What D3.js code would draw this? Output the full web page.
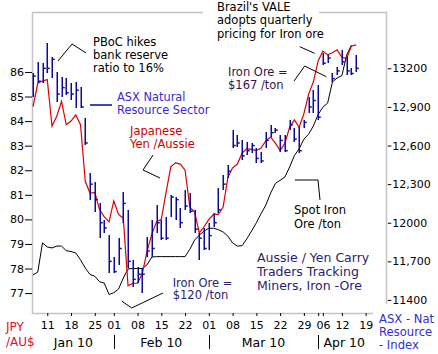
<!DOCTYPE html>
<html>
<head>
<meta charset="utf-8">
<script src="https://cdn.jsdelivr.net/npm/d3@7"></script>
<style>
  body { margin: 0; background: #fff; }
  svg { display: block; font-family: "DejaVu Sans", Verdana, sans-serif; }
</style>
</head>
<body>
<div id="chart"></div>
<script>
// ASX trading days shown on the axis (Australia Day and Easter closed)
const days = [
  "2010-01-06","2010-01-07","2010-01-08","2010-01-11","2010-01-12","2010-01-13","2010-01-14","2010-01-15",
  "2010-01-18","2010-01-19","2010-01-20","2010-01-21","2010-01-22","2010-01-25","2010-01-27","2010-01-28","2010-01-29",
  "2010-02-01","2010-02-02","2010-02-03","2010-02-04","2010-02-05","2010-02-08","2010-02-09","2010-02-10","2010-02-11","2010-02-12",
  "2010-02-15","2010-02-16","2010-02-17","2010-02-18","2010-02-19","2010-02-22","2010-02-23","2010-02-24","2010-02-25","2010-02-26",
  "2010-03-01","2010-03-02","2010-03-03","2010-03-04","2010-03-05","2010-03-08","2010-03-09","2010-03-10","2010-03-11","2010-03-12",
  "2010-03-15","2010-03-16","2010-03-17","2010-03-18","2010-03-19","2010-03-22","2010-03-23","2010-03-24","2010-03-25","2010-03-26",
  "2010-03-29","2010-03-30","2010-03-31","2010-04-01","2010-04-06","2010-04-07","2010-04-08","2010-04-09",
  "2010-04-12","2010-04-13","2010-04-14","2010-04-15","2010-04-16","2010-04-19","2010-04-20","2010-04-21","2010-04-22","2010-04-23"
];
const weekTicks = ["2010-01-11","2010-01-18","2010-01-25","2010-02-01","2010-02-08","2010-02-15","2010-02-22",
  "2010-03-01","2010-03-08","2010-03-15","2010-03-22","2010-03-29","2010-04-06","2010-04-12","2010-04-19"];
const monthStarts = ["2010-02-01","2010-03-01","2010-04-01"];
const months = ["Jan 10","Feb 10","Mar 10","Apr 10"];

// JPY per AUD (left axis)
const jpyAud = [84.59,85.54,85.63,85.69,83.8,84.2,84.8,83.85,84.0,84.25,83.85,81.55,81.06,81.1,80.4,80.1,79.9,
  80.75,80.2,80.05,77.3,77.4,77.4,77.8,78.7,79.4,79.9,80.0,81.1,82.14,82.3,82.25,82.0,80.5,80.3,79.45,79.7,
  80.0,80.2,80.2,80.5,81.7,82.1,82.25,82.7,82.88,82.85,82.8,82.9,83.2,83.35,83.1,82.8,83.1,83.75,84.05,83.75,84.3,85.1,85.6,
  86.45,86.85,86.7,86.78,86.9,86.6,86.55,87.05,87.1];

// ASX natural resource index (right axis): high, low, close
const asxHigh = [13164,13249,13241,13396,13288,13171,13132,13125,13086,13093,13055,12814,12386,12317,12153,12021,11905,
  11734,11882,12239,12099,11711,11656,11648,11889,12021,12138,12021,12045,12216,12200,12115,12254,12231,12099,11920,11959,
  11998,12076,12270,12371,12449,12721,12682,12643,12628,12620,12581,12550,12705,12760,12736,12682,12682,12798,12736,12744,12798,12977,13032,
  13070,13319,13304,13164,13210,13342,13288,13202,13304];
const asxLow = [12977,13086,13086,13164,13125,12939,12977,12993,12954,12892,12892,12604,12176,12083,11882,11920,11610,
  11610,11672,11998,11648,11501,11532,11454,11734,11734,11920,11866,11866,12045,12021,11959,12099,12076,11920,11711,11788,
  11788,11967,12076,12254,12347,12581,12589,12488,12527,12542,12464,12464,12581,12666,12697,12550,12550,12721,12628,12542,12736,12853,12853,
  12798,13226,13241,13093,13148,13226,13148,13148,13171];
const asxClose = [13140,13100,13200,13200,13270,13000,13050,13010,13000,13030,12900,12620,12300,12180,12000,11960,11700,
  11620,11800,12150,11700,11560,11600,11600,11780,11800,12000,11880,11880,12200,12180,12000,12130,12090,11950,11880,11800,
  11900,12000,12100,12300,12400,12600,12620,12520,12560,12600,12500,12480,12640,12700,12720,12640,12560,12760,12650,12560,12780,12900,12950,
  12820,13240,13280,13120,13180,13250,13180,13160,13200];

// spot iron ore, US$/ton (unlabelled scale)
const ironOre = [124.4,125.0,131.4,130.5,130.3,130.7,130.7,129.7,129.5,129.2,127.7,125.9,124.5,124.1,122.9,122.6,120.1,
  120.5,121.3,123.7,125.7,125.8,125.8,125.8,126.6,128.3,128.4,128.4,128.4,128.4,128.4,128.4,128.4,130.0,132.0,133.1,134.0,
  134.6,134.6,134.3,133.8,132.9,131.4,130.7,130.8,132.3,134.0,135.8,137.8,139.7,142.3,144.4,145.1,145.8,148.0,150.5,152.0,154.1,155.2,157.0,
  159.5,161.1,162.0,166.6,167.5,168.0,172.5,174.7];

const leftTicks = [77,78,79,80,81,82,83,84,85,86];
const rightTicks = [13200,12900,12600,12300,12000,11700,11400];
const rightTickLabels = ["13200","12,900","12,600","12,300","12000","11,700","11400"];

const W = 438, H = 354;
const plot = {left: 32, top: 12, right: 386, bottom: 313};

const svg = d3.select("#chart").append("svg").attr("width", W).attr("height", H);
svg.append("rect").attr("width", W).attr("height", H).attr("fill", "#fff");

const dayIndex = new Map(days.map((d, i) => [d, i]));
const x = d3.scaleLinear().domain([-0.21, 74.28]).range([plot.left, plot.right]);
const yL = d3.scaleLinear().domain([76.19, 88.44]).range([plot.bottom, plot.top]);
const yR = d3.scaleLinear().domain([11298.6, 13637.7]).range([plot.bottom, plot.top]);
const yIron = d3.scaleLinear().domain([116.06, 181.93]).range([plot.bottom, plot.top]);

// frame
const grey = "#c4c4c4";
svg.append("rect")
  .attr("x", plot.left + 0.5).attr("y", plot.top + 0.5)
  .attr("width", plot.right - plot.left).attr("height", plot.bottom - plot.top)
  .attr("fill", "none").attr("stroke", grey).attr("stroke-width", 1.5);

// series
const ironLine = d3.line().x((d, i) => x(i)).y(d => yIron(d));
svg.append("path").datum(ironOre)
  .attr("d", ironLine).attr("fill", "none").attr("stroke", "#000").attr("stroke-width", 1);

const jpyLine = d3.line().x((d, i) => x(i)).y(d => yL(d));
svg.append("path").datum(jpyAud)
  .attr("d", jpyLine).attr("fill", "none").attr("stroke", "#e00000").attr("stroke-width", 1.2);

const bars = svg.append("g").attr("stroke", "#0a0aa0").attr("stroke-width", 1.5);
asxHigh.forEach((h, i) => {
  const bx = Math.round(x(i)) + 0.25;
  bars.append("line").attr("x1", bx).attr("x2", bx).attr("y1", yR(h)).attr("y2", yR(asxLow[i]));
  bars.append("line").attr("x1", bx).attr("x2", bx + 2.5)
    .attr("y1", yR(asxClose[i])).attr("y2", yR(asxClose[i]));
});

// annotations
function note(xp, yp, lines, color, size, lh) {
  const t = svg.append("text").attr("x", xp).attr("y", yp)
    .attr("fill", color).style("font-size", size + "px");
  lines.forEach((s, k) => t.append("tspan").attr("x", xp).attr("dy", k ? lh : 0).text(s));
  return t;
}
function pointer(pts) {
  svg.append("path").attr("d", d3.line()(pts))
    .attr("fill", "none").attr("stroke", "#000").attr("stroke-width", 1);
}

note(93, 45.5, ["PBoC hikes", "bank reserve", "ratio to 16%"], "#000", 11.5, 13);
pointer([[58, 61], [72, 44], [86, 53]]);

note(117, 101, ["ASX Natural", "Resource Sector"], "#3c28d2", 11.4, 12.5);
svg.append("line").attr("x1", 90).attr("x2", 112).attr("y1", 105).attr("y2", 105)
  .attr("stroke", "#0a0aa0").attr("stroke-width", 1.5);

note(130, 135, ["Japanese", "Yen /Aussie"], "#d00000", 11.5, 13);
pointer([[153, 155], [143, 170], [160, 178]]);

svg.append("rect").attr("x", 203).attr("y", 0).attr("width", 116).attr("height", 42).attr("fill", "#fff");
note(217, 11, ["Brazil's VALE", "adopts quarterly", "pricing for Iron ore"], "#000", 11.5, 13.3);
pointer([[299.7, 46.7], [314.7, 53.3]]);

note(228, 76, ["Iron Ore =", "$167 /ton"], "#3a1048", 11.5, 12.7);
pointer([[294, 81], [304.7, 66], [326.3, 76.7]]);

note(294, 214.3, ["Spot Iron", "Ore /ton"], "#000", 11.5, 13.3);
pointer([[295, 180], [318, 180], [320, 200]]);

note(257, 262, ["Aussie / Yen Carry", "Traders Tracking", "Miners, Iron -Ore"], "#2c1c6c", 12.5, 14);

note(172.7, 286.7, ["Iron Ore =", "$120 /ton"], "#2c1c6c", 11.5, 12.5);
pointer([[121.7, 301], [131.7, 308], [163, 293]]);

// axes
const leftAxis = d3.axisLeft(yL).tickValues(leftTicks).tickSize(7).tickPadding(1);
const gL = svg.append("g").attr("transform", `translate(${plot.left},0)`).call(leftAxis);

const rightAxis = d3.axisRight(yR).tickValues(rightTicks).tickSize(3.5).tickPadding(1)
  .tickFormat((d, i) => rightTickLabels[i]);
const gR = svg.append("g").attr("transform", `translate(${plot.right + 1.8},0)`).call(rightAxis);

const tickIdx = weekTicks.concat(monthStarts.filter(d => !weekTicks.includes(d))).map(d => dayIndex.get(d));
const bottomAxis = d3.axisBottom(x).tickValues(tickIdx).tickSize(3).tickPadding(5)
  .tickFormat(i => weekTicks.includes(days[i]) ? days[i].slice(8) : "");
const gB = svg.append("g").attr("transform", `translate(0,${plot.bottom})`).call(bottomAxis);

[gL, gR, gB].forEach(g => {
  g.select(".domain").remove();
  g.selectAll("text").attr("fill", "#000").style("font-size", "11px")
    .style("font-family", '"DejaVu Sans", Verdana, sans-serif');
  g.selectAll("line").attr("stroke", "#000");
});

// month labels and separators
const starts = [0].concat(monthStarts.map(d => dayIndex.get(d))).concat([71]);
months.forEach((m, k) => {
  svg.append("text").attr("x", x((starts[k] + starts[k + 1]) / 2)).attr("y", 346.5)
    .attr("text-anchor", "middle").attr("fill", "#000").style("font-size", "12.5px").text(m);
});
monthStarts.forEach(d => {
  const sx = Math.round(x(dayIndex.get(d))) + 0.5;
  svg.append("line").attr("x1", sx).attr("x2", sx).attr("y1", 335).attr("y2", 349)
    .attr("stroke", "#000").attr("stroke-width", 1);
});

// axis titles
note(6, 330.5, ["JPY", "/AU$"], "#e0102a", 12, 15.5);
svg.append("rect").attr("x", 373).attr("y", 304).attr("width", 65).attr("height", 50).attr("fill", "#fff");
note(379, 322.5, ["ASX - Nat", "Resource", "- Index"], "#3030d0", 11.6, 13);
</script>
</body>
</html>
